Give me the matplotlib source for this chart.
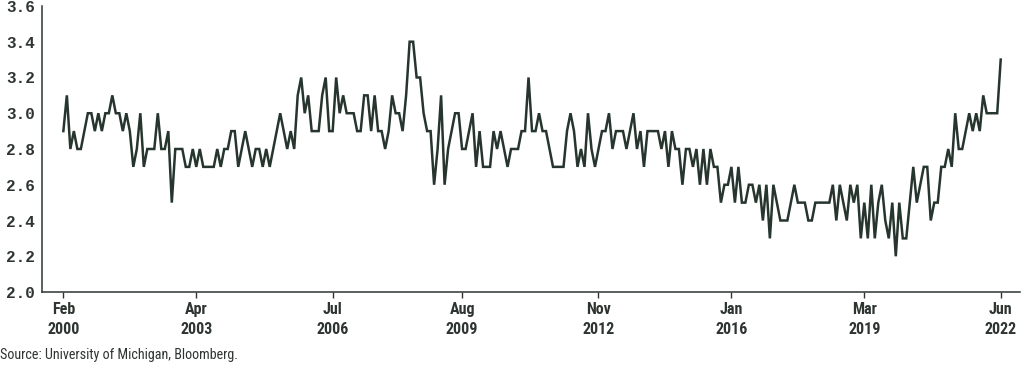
import matplotlib

matplotlib.use("Agg")
import matplotlib.pyplot as plt
import pandas as pd
from matplotlib import font_manager

# UMich 5-10 year inflation expectations, monthly, Feb 2000 - Jun 2022
START = "2000-02"
VALUES = [
    2.9, 3.1, 2.8, 2.9, 2.8, 2.8, 2.9, 3.0, 3.0, 2.9,
    3.0, 2.9, 3.0, 3.0, 3.1, 3.0, 3.0, 2.9, 3.0, 2.9,
    2.7, 2.8, 3.0, 2.7, 2.8, 2.8, 2.8, 3.0, 2.8, 2.8,
    2.9, 2.5, 2.8, 2.8, 2.8, 2.7, 2.7, 2.8, 2.7, 2.8,
    2.7, 2.7, 2.7, 2.7, 2.8, 2.7, 2.8, 2.8, 2.9, 2.9,
    2.7, 2.8, 2.9, 2.8, 2.7, 2.8, 2.8, 2.7, 2.8, 2.7,
    2.8, 2.9, 3.0, 2.9, 2.8, 2.9, 2.8, 3.1, 3.2, 3.0,
    3.1, 2.9, 2.9, 2.9, 3.1, 3.2, 2.9, 2.9, 3.2, 3.0,
    3.1, 3.0, 3.0, 3.0, 2.9, 2.9, 3.1, 3.1, 2.9, 3.1,
    2.9, 2.9, 2.8, 2.9, 3.1, 3.0, 3.0, 2.9, 3.1, 3.4,
    3.4, 3.2, 3.2, 3.0, 2.9, 2.9, 2.6, 2.8, 3.1, 2.6,
    2.8, 2.9, 3.0, 3.0, 2.8, 2.8, 2.9, 3.0, 2.7, 2.9,
    2.7, 2.7, 2.7, 2.9, 2.8, 2.9, 2.8, 2.7, 2.8, 2.8,
    2.8, 2.9, 2.9, 3.2, 2.9, 2.9, 3.0, 2.9, 2.9, 2.8,
    2.7, 2.7, 2.7, 2.7, 2.9, 3.0, 2.9, 2.7, 2.8, 2.7,
    3.0, 2.8, 2.7, 2.8, 2.9, 2.9, 3.0, 2.8, 2.9, 2.9,
    2.9, 2.8, 2.9, 3.0, 2.8, 2.9, 2.7, 2.9, 2.9, 2.9,
    2.9, 2.8, 2.9, 2.7, 2.9, 2.8, 2.8, 2.6, 2.8, 2.8,
    2.7, 2.8, 2.6, 2.8, 2.6, 2.8, 2.7, 2.7, 2.5, 2.6,
    2.6, 2.7, 2.5, 2.7, 2.5, 2.5, 2.6, 2.6, 2.5, 2.6,
    2.4, 2.6, 2.3, 2.6, 2.5, 2.4, 2.4, 2.4, 2.5, 2.6,
    2.5, 2.5, 2.5, 2.4, 2.4, 2.5, 2.5, 2.5, 2.5, 2.5,
    2.6, 2.4, 2.6, 2.5, 2.4, 2.6, 2.5, 2.6, 2.3, 2.5,
    2.3, 2.6, 2.3, 2.5, 2.6, 2.4, 2.3, 2.5, 2.2, 2.5,
    2.3, 2.3, 2.5, 2.7, 2.5, 2.6, 2.7, 2.7, 2.4, 2.5,
    2.5, 2.7, 2.7, 2.8, 2.7, 3.0, 2.8, 2.8, 2.9, 3.0,
    2.9, 3.0, 2.9, 3.1, 3.0, 3.0, 3.0, 3.0, 3.3,
]
TICK_DATES = ["2000-02", "2003-04", "2006-07", "2009-08",
              "2012-11", "2016-01", "2019-03", "2022-06"]
Y_TICKS = [2.0, 2.2, 2.4, 2.6, 2.8, 3.0, 3.2, 3.4, 3.6]
SOURCE = "Source: University of Michigan, Bloomberg."

LINE = "#26352e"
INK = "#2e3531"


def pick_font(names):
    installed = {f.name for f in font_manager.fontManager.ttflist}
    for name in names:
        if name in installed:
            return name
    return "DejaVu Sans"


mono = pick_font(["Liberation Mono", "DejaVu Sans Mono"])
narrow = pick_font(["Liberation Sans Narrow", "Roboto Condensed",
                    "DejaVu Sans Condensed", "Roboto"])

dates = pd.period_range(START, periods=len(VALUES), freq="M")
idx = list(range(len(VALUES)))
tick_pos = [dates.get_loc(pd.Period(d, freq="M")) for d in TICK_DATES]
tick_labels = [pd.Period(d, freq="M").strftime("%b\n%Y") for d in TICK_DATES]

fig = plt.figure(figsize=(10.24, 3.72), dpi=100)
ax = fig.add_axes([0.0407, 0.215, 0.955, 0.769])

ax.plot(idx, VALUES, color=LINE, linewidth=1.8, solid_joinstyle="miter")

ax.set_xlim(-6.2, 273.4)
ax.set_ylim(2.0, 3.6)
ax.set_yticks(Y_TICKS)
ax.set_yticklabels([f"{v:.1f}" for v in Y_TICKS], fontfamily=mono,
                   fontweight="bold", fontsize=11.5, color=INK)
ax.set_xticks(tick_pos)
ax.set_xticklabels(tick_labels, fontfamily=narrow, fontweight="bold",
                   fontsize=11.5, color=INK, linespacing=1.45)

ax.tick_params(axis="y", length=0, pad=5)
ax.tick_params(axis="x", length=4, width=1, color=INK, pad=3)
for side in ("top", "right"):
    ax.spines[side].set_visible(False)
for side in ("left", "bottom"):
    ax.spines[side].set_color(INK)
    ax.spines[side].set_linewidth(1.1)

fig.text(0.0, 0.035, SOURCE, fontfamily=narrow, fontsize=10.2, color=INK)

fig.savefig("out.png", dpi=100)
